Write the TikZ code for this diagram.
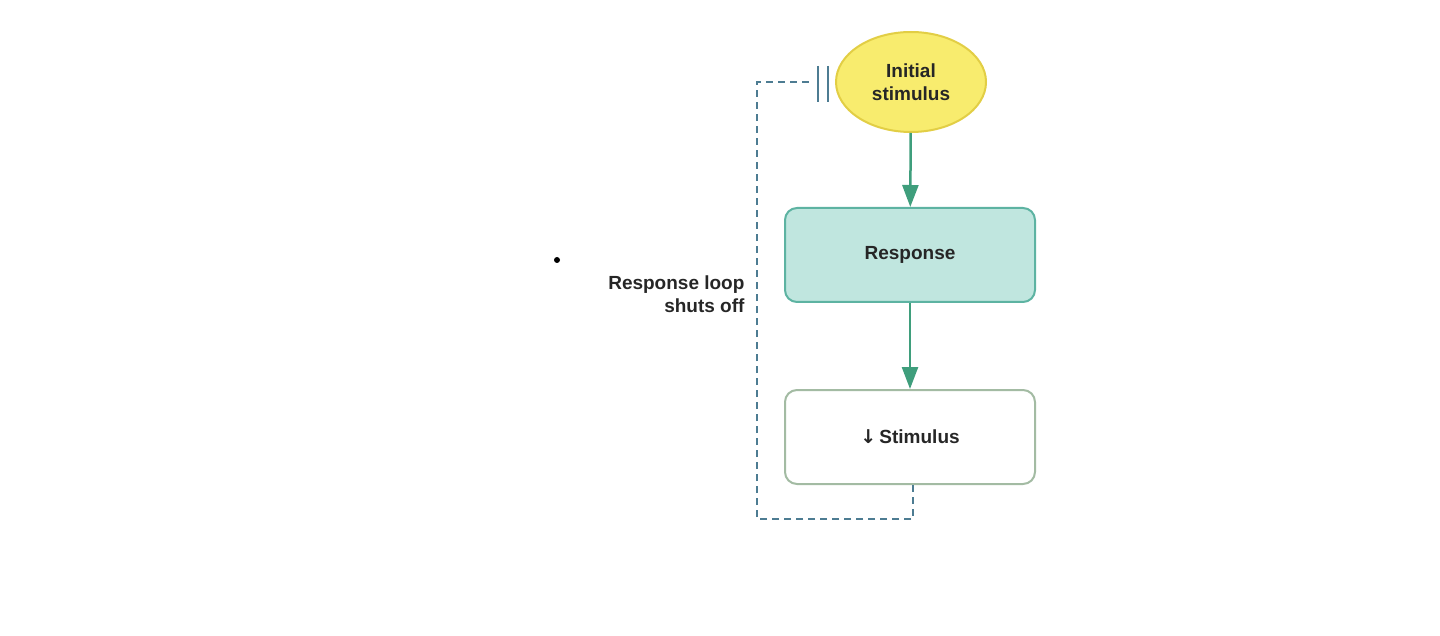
\documentclass[tikz,border=0pt]{standalone}
\usepackage{fontspec}
\setmainfont{Liberation Sans}
\newfontfamily\djv{DejaVu Sans}
\usetikzlibrary{shapes.geometric,arrows.meta}
\definecolor{ygold}{HTML}{F8EC6E}
\definecolor{yedge}{HTML}{E2CE45}
\definecolor{tealf}{HTML}{C0E6DF}
\definecolor{teale}{HTML}{5DB3A2}
\definecolor{grayg}{HTML}{A3BBA3}
\definecolor{arrg}{HTML}{3F9E7C}
\definecolor{dashc}{HTML}{4D7C92}
\tikzset{
  lbl/.style={font=\bfseries\fontsize{19}{23}\selectfont, text=black!85},
  box/.style={rounded corners=12pt, minimum width=250pt, minimum height=94pt, line width=2pt, lbl},
  flow/.style={draw=arrg, line width=2.5pt, -{Triangle[length=22pt,width=16pt]}},
  fb/.style={draw=dashc, line width=2.5pt, dash pattern=on 7pt off 5pt}
}
\begin{document}
\begin{tikzpicture}[x=1pt,y=-1pt]
\useasboundingbox (0,0) rectangle (1440,636);
\node[ellipse, draw=yedge, fill=ygold, line width=2pt, minimum width=150pt, minimum height=100pt, lbl, align=center, inner sep=0pt] (init) at (911,82) {Initial\\stimulus};
\node[box, draw=teale, fill=tealf] (resp) at (910,255) {Response};
\node[box, draw=grayg, fill=white] (stim) at (910,437) {{\djv ↓}\,Stimulus};
\draw[flow] (init) -- (resp);
\draw[flow] (resp) -- (stim);
\coordinate (c1) at (913,519);
\coordinate (c2) at (757,519);
\coordinate (c3) at (757,82);
\coordinate (c4) at (812,82);
\draw[fb] (stim.south -| c1) -- (c1) -- (c2) -- (c3) -- (c4);
\coordinate (b1t) at (818,66); \coordinate (b1b) at (818,102);
\coordinate (b2t) at (828,66); \coordinate (b2b) at (828,102);
\draw[dashc, line width=2.5pt] (b1t) -- (b1b) (b2t) -- (b2b);
\node[circle, fill=black, inner sep=0pt, minimum size=6pt] (dot) at (557,260) {};
\node[lbl, align=right, anchor=east] (loop) at (748,294) {Response loop\\shuts off};
\end{tikzpicture}
\end{document}
